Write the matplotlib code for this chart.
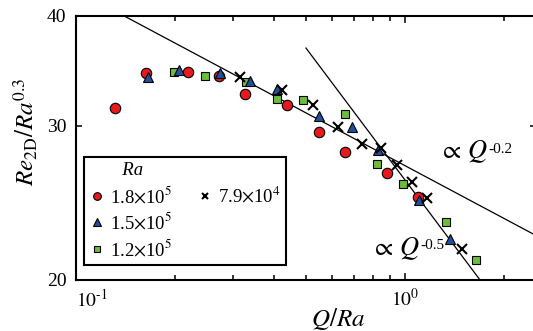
import matplotlib
matplotlib.use("Agg")
import matplotlib.pyplot as plt
from matplotlib.lines import Line2D
from matplotlib.ticker import FixedLocator, NullLocator
import numpy as np

plt.rcParams['font.family'] = ['Liberation Serif', 'DejaVu Serif']
plt.rcParams['mathtext.fontset'] = 'stix'

# Q/Ra and Re_2D/Ra^0.3 for each Ra
q_18 = [0.131, 0.163, 0.219, 0.272, 0.327, 0.437, 0.548, 0.659, 0.880, 1.098]
re_18 = [31.4, 34.4, 34.5, 34.2, 32.6, 31.7, 29.5, 28.0, 26.5, 24.9]

q_15 = [0.165, 0.205, 0.274, 0.338, 0.409, 0.548, 0.689, 0.826, 1.105, 1.37]
re_15 = [34.1, 34.7, 34.4, 33.7, 33.0, 30.8, 29.9, 28.1, 24.7, 22.3]

q_12 = [0.198, 0.246, 0.329, 0.407, 0.491, 0.657, 0.820, 0.984, 1.33, 1.644]
re_12 = [34.5, 34.2, 33.6, 32.2, 32.1, 30.9, 27.1, 25.7, 23.3, 21.1]

q_79 = [0.315, 0.422, 0.524, 0.627, 0.739, 0.845, 0.944, 1.048, 1.164, 1.487]
re_79 = [34.1, 32.9, 31.7, 29.9, 28.6, 28.3, 27.05, 25.9, 24.8, 21.7]

# power-law guides
c_02 = 27.0
c_05 = 26.0

red = '#e8191e'
blue = '#1f4f9e'
green = '#6cbd3a'

fig = plt.figure(figsize=(5.33, 3.31), dpi=100)
ax = fig.add_axes([76/533, 51/331, 460/533, 264/331])
ax.set_xscale('log')
ax.set_yscale('log')

# guide lines
ql = np.array([0.1, 2.5])
ax.plot(ql, c_02 * ql**-0.2, color='black', lw=0.9, zorder=1)
ql2 = np.array([0.5, 2.5])
ax.plot(ql2, c_05 * ql2**-0.5, color='black', lw=0.9, zorder=1)

ax.plot(q_18, re_18, 'o', ms=7.5, mfc=red, mec='black', mew=0.8, ls='none', zorder=3)
ax.plot(q_15, re_15, '^', ms=7, mfc=blue, mec='black', mew=0.8, ls='none', zorder=4)
ax.plot(q_12, re_12, 's', ms=6, mfc=green, mec='black', mew=0.8, ls='none', zorder=3)
ax.plot(q_79, re_79, 'x', ms=7.5, color='black', mew=1.5, ls='none', zorder=5)

ax.set_xlim(0.1, 2.5)
ax.set_ylim(20, 40)

ax.xaxis.set_major_locator(FixedLocator([0.1, 1]))
ax.xaxis.set_minor_locator(FixedLocator([0.2, 0.3, 0.4, 0.5, 0.6, 0.7, 0.8, 0.9, 2]))
ax.set_xticklabels([r'$10^{\text{-1}}$', r'$10^{0}$'])
ax.yaxis.set_major_locator(FixedLocator([20, 30, 40]))
ax.yaxis.set_minor_locator(NullLocator())
ax.set_yticklabels(['20', '30', '40'])

ax.tick_params(which='both', direction='in', top=True, right=True, labelsize=14, width=1.1)
ax.tick_params(axis='x', which='major', length=5, pad=6)
ax.tick_params(axis='x', which='minor', length=3.5)
ax.tick_params(axis='y', which='major', length=4, pad=7)
ax.get_xticklabels()[0].set_horizontalalignment('left')

for s in ax.spines.values():
    s.set_linewidth(1.5)

ax.set_ylabel(r'$Re_{\mathrm{2D}}/Ra^{0.3}$', fontsize=18)
ax.yaxis.set_label_coords(-0.078, 0.56)
ax.set_xlabel(r'$Q/Ra$', fontsize=18)
ax.xaxis.set_label_coords(0.57, -0.1)

# scaling annotations
t1 = ax.text(0.79, 0.46, r'$\propto\,Q$', transform=ax.transAxes, fontsize=19, ha='left', va='baseline')
ax.annotate('-0.2', xy=(1.0, 0.6), xycoords=t1, fontsize=11, ha='left', va='center')
t2 = ax.text(0.641, 0.095, r'$\propto\,Q$', transform=ax.transAxes, fontsize=19, ha='left', va='baseline')
ax.annotate('-0.5', xy=(1.0, 0.6), xycoords=t2, fontsize=11, ha='left', va='center')

blank = Line2D([], [], ls='none', marker='none')
handles = [
    Line2D([], [], ls='none', marker='o', ms=5.5, mfc=red, mec='black', mew=0.8),
    Line2D([], [], ls='none', marker='^', ms=5.5, mfc=blue, mec='black', mew=0.8),
    Line2D([], [], ls='none', marker='s', ms=4.5, mfc=green, mec='black', mew=0.8),
    Line2D([], [], ls='none', marker='x', ms=5, color='black', mew=1.5),
    blank, blank,
]
labels = [r'1.8$\times$10$^5$', r'1.5$\times$10$^5$', r'1.2$\times$10$^5$',
          r'7.9$\times$10$^4$', '', '']
leg = ax.legend(handles, labels, ncol=2, loc='lower left', bbox_to_anchor=(0.017, 0.057),
                borderaxespad=0, fontsize=13.5, frameon=True, fancybox=False,
                edgecolor='black', framealpha=1, handlelength=0.8, handletextpad=0.3,
                columnspacing=1.35, labelspacing=0.31, borderpad=0.28,
                title='       Ra', title_fontproperties={'style': 'italic', 'size': 13.5})
leg._legend_box.align = 'left'
leg.get_frame().set_linewidth(1.5)

fig.savefig('out.png', dpi=100)
